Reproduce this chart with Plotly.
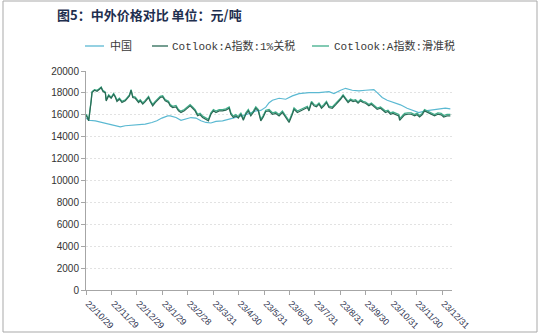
import plotly.graph_objects as go

# Cotlook A index series (1% tariff and sliding-scale tariff), shared dates
cot_dates = ["2022-10-29","2022-11-01","2022-11-04","2022-11-05","2022-11-08","2022-11-11","2022-11-14","2022-11-16","2022-11-18","2022-11-21",
             "2022-11-22","2022-11-25","2022-11-28","2022-12-01","2022-12-03","2022-12-05","2022-12-08","2022-12-11","2022-12-15","2022-12-17",
             "2022-12-20","2022-12-22","2022-12-24","2022-12-27","2022-12-31","2023-01-02","2023-01-05","2023-01-08","2023-01-12","2023-01-14",
             "2023-01-17","2023-01-20","2023-01-24","2023-01-26","2023-01-29","2023-02-01","2023-02-05","2023-02-07","2023-02-10","2023-02-14",
             "2023-02-17","2023-02-20","2023-02-24","2023-02-28","2023-03-03","2023-03-06","2023-03-09","2023-03-12","2023-03-15","2023-03-18",
             "2023-03-21","2023-03-25","2023-03-28","2023-03-31","2023-04-03","2023-04-07","2023-04-11","2023-04-15","2023-04-19","2023-04-21",
             "2023-04-24","2023-04-27","2023-04-30","2023-05-03","2023-05-06","2023-05-09","2023-05-12","2023-05-15","2023-05-18","2023-05-21",
             "2023-05-24","2023-05-27","2023-05-30","2023-06-02","2023-06-06","2023-06-10","2023-06-14","2023-06-18","2023-06-22","2023-06-26",
             "2023-06-30","2023-07-04","2023-07-06","2023-07-10","2023-07-14","2023-07-18","2023-07-22","2023-07-24","2023-07-27","2023-07-30",
             "2023-08-02","2023-08-05","2023-08-08","2023-08-11","2023-08-14","2023-08-17","2023-08-21","2023-08-25","2023-08-28","2023-08-31",
             "2023-09-03","2023-09-06","2023-09-09","2023-09-12","2023-09-15","2023-09-18","2023-09-21","2023-09-24","2023-09-27","2023-09-30",
             "2023-10-04","2023-10-07","2023-10-10","2023-10-14","2023-10-18","2023-10-21","2023-10-24","2023-10-27","2023-10-30","2023-11-02",
             "2023-11-05","2023-11-09","2023-11-10","2023-11-13","2023-11-16","2023-11-20","2023-11-24","2023-11-28","2023-12-01","2023-12-04",
             "2023-12-07","2023-12-10","2023-12-14","2023-12-18","2023-12-22","2023-12-26","2023-12-30","2024-01-02","2024-01-06","2024-01-10"]

cot_1pct = [15950,15450,17270,18030,18240,18150,18330,18480,18150,18000,
            17270,17730,17510,17870,17600,17210,17420,17120,17270,17420,
            17730,18240,17580,17510,17120,17270,16970,17210,17580,17210,
            16820,17120,17420,17580,17640,17270,17120,16820,16660,16730,
            16360,16210,16360,16600,16820,16600,16360,15910,16000,15750,
            15600,15450,16050,16360,16210,16360,16360,16420,16600,16050,
            15750,15900,15700,16050,15500,16050,16360,15900,16210,16600,
            16360,15450,15800,16300,16360,16050,16120,15900,16210,15750,
            15300,16050,16500,16210,16360,16500,16660,16360,17120,16820,
            16730,16970,16600,16820,17120,16660,16600,16910,17120,17420,
            17730,17420,17120,17330,17210,17270,17060,17270,17120,17060,
            16820,16970,16730,16500,16600,16360,16210,16300,16050,16120,
            16000,15900,15500,15800,16000,16050,16050,15900,16000,15800,
            16000,16360,16210,16050,15900,16050,16000,15800,15900,15900]

cot_sliding = [16050,15550,17350,18120,18300,18230,18400,18530,18230,18080,
               17380,17820,17600,17950,17700,17320,17520,17230,17370,17520,
               17820,18300,17680,17610,17230,17370,17080,17320,17680,17320,
               16940,17230,17520,17680,17740,17380,17230,16940,16780,16850,
               16480,16330,16480,16720,16930,16720,16480,16040,16130,15880,
               15730,15580,16180,16480,16340,16480,16480,16540,16720,16180,
               15880,16030,15830,16180,15640,16180,16480,16030,16340,16720,
               16480,15590,15930,16420,16480,16180,16250,16030,16340,15880,
               15440,16180,16620,16340,16480,16620,16780,16480,17230,16940,
               16850,17080,16720,16940,17230,16780,16720,17030,17230,17520,
               17820,17520,17230,17430,17320,17380,17170,17380,17230,17170,
               16940,17080,16850,16620,16720,16480,16340,16420,16180,16250,
               16130,16030,15640,15930,16130,16180,16180,16030,16130,15930,
               16130,16480,16340,16180,16030,16180,16130,15930,16030,16030]

# Domestic (China) cotton price
cn_dates = ["2022-10-29","2022-11-01","2022-11-09","2022-11-17","2022-11-25","2022-12-03","2022-12-09","2022-12-15","2022-12-27","2023-01-08",
            "2023-01-16","2023-01-22","2023-01-28","2023-02-04","2023-02-07","2023-02-14","2023-02-20","2023-02-26","2023-03-04","2023-03-10",
            "2023-03-16","2023-03-22","2023-03-28","2023-04-03","2023-04-11","2023-04-19","2023-04-25","2023-05-01","2023-05-09","2023-05-15",
            "2023-05-21","2023-05-27","2023-06-02","2023-06-06","2023-06-10","2023-06-18","2023-06-26","2023-07-04","2023-07-12","2023-07-24",
            "2023-08-05","2023-08-17","2023-08-23","2023-08-31","2023-09-06","2023-09-14","2023-09-22","2023-09-30","2023-10-10","2023-10-14",
            "2023-10-20","2023-10-26","2023-11-03","2023-11-11","2023-11-19","2023-11-27","2023-12-03","2023-12-11","2023-12-19","2023-12-27",
            "2024-01-04","2024-01-10"]
cn_price = [15700,15500,15450,15300,15150,15000,14900,15000,15050,15150,
            15300,15450,15700,15900,15900,15750,15500,15600,15750,15700,
            15450,15300,15250,15400,15450,15600,15700,15800,16000,16180,
            16360,16400,16700,17100,17330,17510,17420,17730,17940,18030,
            18030,18120,17940,18240,18420,18240,18180,18240,18300,18030,
            17580,17330,17120,16910,16600,16360,16210,16360,16420,16480,
            16600,16540]

tick_dates = ["2022-10-29","2022-11-29","2022-12-29","2023-01-29","2023-02-28","2023-03-31","2023-04-30",
              "2023-05-31","2023-06-30","2023-07-31","2023-08-31","2023-09-30","2023-10-31","2023-11-30","2023-12-31"]
tick_text = ["22/10/29","22/11/29","22/12/29","23/1/29","23/2/28","23/3/31","23/4/30",
             "23/5/31","23/6/30","23/7/31","23/8/31","23/9/30","23/10/31","23/11/30","23/12/31"]

y_ticks = [0,2000,4000,6000,8000,10000,12000,14000,16000,18000,20000]
y_text = [str(v) for v in y_ticks]

names = ["中国", "Cotlook:A指数:1%关税", "Cotlook:A指数:滑准税"]
colors = ["#5bb9d2", "#2a6a55", "#3fae8a"]

fig = go.Figure()
fig.add_trace(go.Scatter(x=cn_dates, y=cn_price, mode="lines", name=names[0],
                         line=dict(color=colors[0], width=1.2)))
fig.add_trace(go.Scatter(x=cot_dates, y=cot_sliding, mode="lines", name=names[2],
                         line=dict(color=colors[2], width=1.3)))
fig.add_trace(go.Scatter(x=cot_dates, y=cot_1pct, mode="lines", name=names[1],
                         line=dict(color=colors[1], width=1.2)))

# plot area in pixels
L, R, T, B = 86, 452, 71, 290
W, H = R - L, B - T
def px(x):
    return (x - L) / W
def py(y):
    return (B - y) / H

shapes = []
annotations = []
# hand-placed legend
legend_items = [(0, 85, 104, 108), (1, 152, 168, 170), (2, 312, 329, 332)]
for idx, x0, x1, xt in legend_items:
    shapes.append(dict(type="line", xref="paper", yref="paper",
                       x0=px(x0), x1=px(x1), y0=py(46), y1=py(46),
                       line=dict(color=colors[idx], width=1.3)))
    annotations.append(dict(text=names[idx], xref="paper", yref="paper",
                            x=px(xt), y=py(46), xanchor="left", yanchor="middle",
                            showarrow=False,
                            font=dict(family="Liberation Mono, Noto Sans CJK SC", size=11, color="#3a3a3a")))

# title
annotations.append(dict(text="<b>图5：中外价格对比 单位：元/吨</b>", xref="paper", yref="paper",
                        x=px(55), y=py(14), xanchor="left", yanchor="middle", showarrow=False,
                        font=dict(family="Noto Sans CJK SC", size=13, color="#1f2f4f")))

# outer frame
shapes.append(dict(type="rect", xref="paper", yref="paper",
                   x0=px(3), x1=px(537), y0=py(332), y1=py(1),
                   line=dict(color="#a9a9a9", width=1), fillcolor="rgba(0,0,0,0)", layer="below"))

fig.update_layout(
    width=540, height=334,
    margin=dict(l=L, r=540 - R, t=T, b=334 - B),
    paper_bgcolor="white", plot_bgcolor="white",
    showlegend=False,
    shapes=shapes, annotations=annotations,
    font=dict(family="Liberation Sans, Arial", size=10, color="#333333"),
)
fig.update_xaxes(
    type="date", range=["2022-10-28 18:00", "2024-01-12"],
    tickvals=tick_dates, ticktext=tick_text, tickangle=45,
    ticklabelshift=2, automargin=False,
    tickfont=dict(family="Liberation Sans, Arial", size=9, color="#2e3350"),
    showgrid=False, zeroline=False,
    showline=True, linecolor="#a6a6a6", linewidth=1,
    ticks="outside", ticklen=4, tickcolor="#a6a6a6",
)
fig.update_yaxes(
    range=[0, 20000], tickvals=y_ticks, ticktext=y_text, automargin=False,
    tickfont=dict(family="Liberation Sans, Arial", size=10, color="#333333"),
    showgrid=True, gridcolor="#e2e2e2", griddash="2px,2px", gridwidth=1,
    zeroline=False, showline=True, linecolor="#a6a6a6", linewidth=1,
    ticks="outside", ticklen=4, tickcolor="#a6a6a6",
)

fig.write_html("out.html")
